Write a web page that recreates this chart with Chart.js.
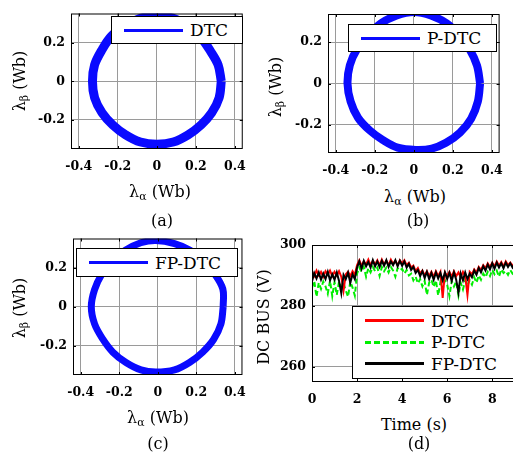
<!DOCTYPE html>
<html>
<head>
<meta charset="utf-8">
<script src="https://cdn.jsdelivr.net/npm/chart.js@4.4.1/dist/chart.umd.min.js"></script>
<style>
  html, body { margin: 0; padding: 0; background: #fff; width: 513px; height: 453px; overflow: hidden; }
  canvas.panel { position: absolute; }
  .label { position: absolute; font-family: "DejaVu Serif", serif; font-size: 16px; color: #000; white-space: nowrap; transform: translate(-50%, -50%); }
  .label.vertical { transform: translate(-50%, -50%) rotate(-90deg); }
  .label sub { font-size: 68%; vertical-align: -3px; }
  .legend { position: absolute; background: #fff; border: 1px solid #000; box-sizing: border-box; font-family: "DejaVu Serif", serif; font-size: 17px; }
  .legend-item { display: flex; align-items: center; padding-left: 12px; white-space: nowrap; }
  .legend-swatch { display: inline-block; width: 59px; height: 3px; margin-right: 7px; }
</style>
</head>
<body>
<canvas id="chartA" class="panel" width="256" height="185" style="left:0;top:0"></canvas>
<canvas id="chartB" class="panel" width="257" height="185" style="left:256px;top:0"></canvas>
<canvas id="chartC" class="panel" width="256" height="185" style="left:0;top:225px"></canvas>
<canvas id="chartD" class="panel" width="300" height="185" style="left:256px;top:225px"></canvas>

<div class="label" style="left:160px;top:192px">λ<sub>α</sub> (Wb)</div>
<div class="label vertical" style="left:20px;top:81px">λ<sub>β</sub> (Wb)</div>
<div class="label" style="left:162px;top:220px">(a)</div>

<div class="label" style="left:415px;top:197px">λ<sub>α</sub> (Wb)</div>
<div class="label vertical" style="left:276px;top:87px">λ<sub>β</sub> (Wb)</div>
<div class="label" style="left:418px;top:220px">(b)</div>

<div class="label" style="left:158px;top:418px">λ<sub>α</sub> (Wb)</div>
<div class="label vertical" style="left:20px;top:308px">λ<sub>β</sub> (Wb)</div>
<div class="label" style="left:158px;top:443px">(c)</div>

<div class="label" style="left:414px;top:424px">Time (s)</div>
<div class="label vertical" style="left:263px;top:317px">DC BUS (V)</div>
<div class="label" style="left:419px;top:443px">(d)</div>

<script>
// tick positions
const fluxTicksX = [-0.4, -0.2, 0, 0.2, 0.4];
const fluxTicksY = [-0.2, 0, 0.2];
const timeTicks = [0, 2, 4, 6, 8, 10];
const busTicks = [260, 280, 300];

// stator flux locus (Wb)
const dtcAlpha = [0.330, 0.314, 0.273, 0.226, 0.165, 0.087, 0.000, -0.087, -0.165, -0.233, -0.281, -0.319, -0.330,
  -0.319, -0.281, -0.226, -0.160, -0.084, 0.000, 0.084, 0.160, 0.226, 0.281, 0.319, 0.330];
const dtcBeta = [0.000, 0.084, 0.158, 0.226, 0.286, 0.324, 0.340, 0.324, 0.286, 0.233, 0.163, 0.085, 0.000,
  -0.085, -0.163, -0.226, -0.277, -0.314, -0.325, -0.314, -0.277, -0.226, -0.163, -0.085, 0.000];

const pdtcAlpha = [0.340, 0.324, 0.286, 0.233, 0.168, 0.088, 0.000, -0.088, -0.168, -0.233, -0.290, -0.328, -0.340,
  -0.324, -0.286, -0.226, -0.158, -0.083, 0.010, 0.092, 0.165, 0.237, 0.294, 0.328, 0.340];
const pdtcBeta = [0.000, 0.087, 0.165, 0.233, 0.290, 0.328, 0.345, 0.328, 0.290, 0.233, 0.168, 0.088, 0.000,
  -0.087, -0.165, -0.226, -0.273, -0.309, -0.320, -0.314, -0.286, -0.237, -0.170, -0.088, 0.000];

const fpdtcAlpha = [0.340, 0.338, 0.294, 0.237, 0.168, 0.087, -0.010, -0.088, -0.168, -0.237, -0.290, -0.328, -0.345,
  -0.328, -0.286, -0.233, -0.165, -0.087, -0.010, 0.087, 0.165, 0.233, 0.290, 0.328, 0.340];
const fpdtcBeta = [0.000, 0.091, 0.170, 0.237, 0.290, 0.324, 0.340, 0.328, 0.290, 0.237, 0.168, 0.088, 0.000,
  -0.088, -0.165, -0.233, -0.286, -0.324, -0.335, -0.324, -0.286, -0.233, -0.168, -0.088, 0.000];

// DC bus voltage (V) sampled every 0.1 s
const timeSeconds = [
  0.0, 0.1, 0.2, 0.3, 0.4, 0.5, 0.6, 0.7, 0.8, 0.9, 1.0, 1.1, 1.2, 1.3, 1.4, 1.5, 1.6, 1.7, 1.8, 1.9,
  2.0, 2.1, 2.2, 2.3, 2.4, 2.5, 2.6, 2.7, 2.8, 2.9, 3.0, 3.1, 3.2, 3.3, 3.4, 3.5, 3.6, 3.7, 3.8, 3.9,
  4.0, 4.1, 4.2, 4.3, 4.4, 4.5, 4.6, 4.7, 4.8, 4.9, 5.0, 5.1, 5.2, 5.3, 5.4, 5.5, 5.6, 5.7, 5.8, 5.9,
  6.0, 6.1, 6.2, 6.3, 6.4, 6.5, 6.6, 6.7, 6.8, 6.9, 7.0, 7.1, 7.2, 7.3, 7.4, 7.5, 7.6, 7.7, 7.8, 7.9,
  8.0, 8.1, 8.2, 8.3, 8.4, 8.5, 8.6, 8.7, 8.8, 8.9, 9.0
];
const busDTC = [
  291.4, 289.8, 291.6, 290.0, 291.2, 289.6, 291.4, 290.2, 291.6, 289.8,
  291.2, 290.0, 291.4, 289.6, 285.0, 290.4, 291.2, 289.8, 291.4, 290.2,
  293.4, 295.0, 293.2, 294.6, 293.6, 295.2, 293.4, 294.8, 293.6, 295.0,
  293.4, 295.2, 293.6, 294.8, 293.4, 295.2, 293.8, 294.8, 293.4, 295.0,
  294.0, 295.0, 293.4, 294.2, 292.6, 293.2, 291.4, 292.4, 290.6, 291.6,
  290.0, 291.4, 289.8, 291.2, 289.6, 291.4, 289.8, 291.2, 282.6, 291.0,
  289.8, 291.2, 289.6, 291.4, 289.8, 291.0, 289.4, 291.2, 289.8, 283.6,
  291.2, 290.4, 292.0, 291.0, 292.8, 291.8, 293.4, 292.4, 294.0, 292.8,
  294.2, 293.0, 294.6, 293.2, 294.4, 293.0, 294.6, 293.4, 294.2, 293.2,
  294.0
];
const busPDTC = [
  286.0, 288.2, 283.0, 287.6, 285.6, 288.0, 286.4, 284.0, 288.2, 283.2,
  287.8, 283.6, 288.0, 286.2, 287.4, 285.0, 283.0, 288.0, 286.0, 283.4,
  290.6, 292.6, 291.2, 292.8, 289.6, 292.4, 291.0, 292.8, 291.4, 292.6,
  289.8, 292.8, 291.4, 292.6, 291.0, 292.8, 291.6, 289.6, 292.4, 291.6,
  292.2, 290.6, 291.8, 290.0, 290.6, 288.4, 289.6, 287.4, 288.8, 286.4,
  288.2, 283.6, 287.6, 288.6, 286.2, 288.4, 283.4, 287.8, 285.6, 288.4,
  287.0, 283.2, 288.2, 286.4, 288.0, 283.4, 287.6, 285.4, 288.4, 286.8,
  288.4, 287.0, 289.4, 287.6, 290.0, 288.6, 290.6, 289.4, 291.2, 289.8,
  291.8, 290.4, 291.6, 289.6, 292.0, 290.8, 291.4, 290.2, 291.8, 290.6,
  291.4
];
const busFPDTC = [
  288.0, 290.8, 289.0, 291.0, 288.6, 290.6, 288.8, 291.2, 288.4, 290.4,
  288.6, 291.0, 288.2, 284.2, 290.2, 288.8, 290.9, 287.6, 290.4, 288.8,
  292.6, 294.6, 292.2, 294.8, 293.0, 294.4, 292.6, 295.0, 293.0, 294.6,
  292.8, 294.8, 293.2, 295.0, 292.8, 294.6, 293.4, 295.0, 293.0, 294.8,
  293.2, 294.6, 292.6, 293.8, 291.8, 292.8, 290.8, 291.8, 289.8, 291.4,
  289.2, 291.2, 288.8, 290.8, 288.6, 291.0, 289.0, 290.8, 288.4, 291.0,
  288.8, 290.8, 288.2, 291.0, 288.6, 284.4, 290.6, 288.4, 291.0, 288.8,
  290.6, 289.4, 291.6, 290.2, 292.4, 291.0, 293.0, 291.6, 293.6, 292.0,
  294.0, 292.2, 294.2, 292.6, 294.0, 292.4, 294.2, 292.8, 294.0, 292.6,
  293.8
];

const tickFont = { family: "'DejaVu Serif', 'Liberation Serif', serif", size: 12.5, weight: "bold" };
const gridColor = "#9a9a9a";

// draws the full box round the plot with inward tick marks, matlab style
const framePlugin = {
  id: "framePlugin",
  afterDatasetsDraw(chart) {
    const { ctx, chartArea, scales } = chart;
    const { left, top, right, bottom } = chartArea;
    const tickLength = 3;

    ctx.save();
    ctx.strokeStyle = "#000";
    ctx.lineWidth = 1;
    ctx.strokeRect(left + 0.5, top + 0.5, right - left - 1, bottom - top - 1);

    ctx.beginPath();
    scales.x.ticks.forEach((tick) => {
      const px = Math.round(scales.x.getPixelForValue(tick.value)) + 0.5;
      if (px < left || px > right) return;
      ctx.moveTo(px, bottom);
      ctx.lineTo(px, bottom - tickLength);
      ctx.moveTo(px, top);
      ctx.lineTo(px, top + tickLength);
    });
    scales.y.ticks.forEach((tick) => {
      const py = Math.round(scales.y.getPixelForValue(tick.value)) + 0.5;
      ctx.moveTo(left, py);
      ctx.lineTo(left + tickLength, py);
      ctx.moveTo(right, py);
      ctx.lineTo(right - tickLength, py);
    });
    ctx.stroke();
    ctx.restore();
  }
};

function toPoints(xs, ys) {
  return xs.map((x, index) => ({ x, y: ys[index] }));
}

function formatFlux(value) {
  return value === 0 ? "0" : value.toFixed(1);
}

function axisOptions(range, ticks, format, size) {
  return {
    type: "linear",
    min: range[0],
    max: range[1],
    afterBuildTicks(axis) {
      axis.ticks = ticks.map((value) => ({ value }));
    },
    afterFit(axis) {
      if (size.width !== undefined) axis.width = size.width;
      if (size.height !== undefined) axis.height = size.height;
    },
    grid: { color: gridColor, lineWidth: 1, drawTicks: false },
    border: { display: false },
    ticks: { color: "#000", font: tickFont, padding: size.padding, callback: format }
  };
}

function renderFluxChart(canvasId, label, xs, ys, layout) {
  new Chart(document.getElementById(canvasId), {
    type: "scatter",
    data: {
      datasets: [{
        label,
        data: toPoints(xs, ys),
        showLine: true,
        borderColor: "#0a0aff",
        borderWidth: layout.lineWidth,
        pointRadius: 0,
        tension: 0.35,
        clip: 0
      }]
    },
    options: {
      responsive: false,
      animation: false,
      events: [],
      layout: { padding: { top: layout.padTop, right: layout.padRight, left: 0, bottom: 0 } },
      plugins: { legend: { display: false }, tooltip: { enabled: false } },
      scales: {
        x: axisOptions([-0.44, 0.44], fluxTicksX, formatFlux, { height: layout.xHeight, padding: 10 }),
        y: axisOptions(layout.yRange, fluxTicksY, formatFlux, { width: layout.yWidth, padding: 6 })
      }
    },
    plugins: [framePlugin]
  });

  renderLegend(layout.legend, [{ label, color: "#0a0aff" }]);
}

function renderBusChart(canvasId) {
  const series = [
    { label: "DTC", values: busDTC, color: "#ff0000", order: 1 },
    { label: "P-DTC", values: busPDTC, color: "#00ee00", order: 2, dash: [5, 3] },
    { label: "FP-DTC", values: busFPDTC, color: "#000000", order: 0 }
  ];

  new Chart(document.getElementById(canvasId), {
    type: "scatter",
    data: {
      datasets: series.map((item) => ({
        label: item.label,
        data: toPoints(timeSeconds, item.values),
        showLine: true,
        borderColor: item.color,
        borderWidth: 2,
        borderDash: item.dash || [],
        pointRadius: 0,
        order: item.order,
        clip: 0
      }))
    },
    options: {
      responsive: false,
      animation: false,
      events: [],
      layout: { padding: { top: 20, right: 13, left: 0, bottom: 0 } },
      plugins: { legend: { display: false }, tooltip: { enabled: false } },
      scales: {
        x: axisOptions([0, 10], timeTicks, (value) => String(value), { height: 28, padding: 10 }),
        y: axisOptions([255, 300], busTicks, (value) => String(value), { width: 56, padding: 6 })
      }
    },
    plugins: [framePlugin]
  });

  renderLegend(
    { left: 352, top: 306, width: 200, height: 73, padTop: 3, row: 21.5 },
    series.map((item) => ({ label: item.label, color: item.color, dash: Boolean(item.dash) }))
  );
}

function renderLegend(box, entries) {
  const legend = document.createElement("div");
  legend.className = "legend";
  legend.style.left = `${box.left}px`;
  legend.style.top = `${box.top}px`;
  legend.style.width = `${box.width}px`;
  legend.style.height = `${box.height}px`;
  legend.style.paddingTop = `${box.padTop || 0}px`;

  entries.forEach((entry) => {
    const item = document.createElement("div");
    const swatch = document.createElement("span");
    const text = document.createElement("span");

    item.className = "legend-item";
    item.style.height = `${box.row}px`;
    swatch.className = "legend-swatch";
    swatch.style.background = entry.dash
      ? `repeating-linear-gradient(90deg, ${entry.color} 0 6px, transparent 6px 9px)`
      : entry.color;
    text.textContent = entry.label;

    item.append(swatch, text);
    legend.append(item);
  });

  document.body.append(legend);
}

renderFluxChart("chartA", "DTC", dtcAlpha, dtcBeta, {
  padTop: 6, padRight: 4, xHeight: 36, yWidth: 71, yRange: [-0.35, 0.35], lineWidth: 9,
  legend: { left: 111, top: 16, width: 132, height: 28, row: 26 }
});
renderFluxChart("chartB", "P-DTC", pdtcAlpha, pdtcBeta, {
  padTop: 14, padRight: 7, xHeight: 32, yWidth: 72, yRange: [-0.335, 0.335], lineWidth: 8,
  legend: { left: 348, top: 24, width: 149, height: 28, row: 26 }
});
renderFluxChart("chartC", "FP-DTC", fpdtcAlpha, fpdtcBeta, {
  padTop: 13, padRight: 8, xHeight: 35, yWidth: 73, yRange: [-0.35, 0.35], lineWidth: 7,
  legend: { left: 76, top: 248, width: 162, height: 29, row: 27 }
});
renderBusChart("chartD");
</script>
</body>
</html>
